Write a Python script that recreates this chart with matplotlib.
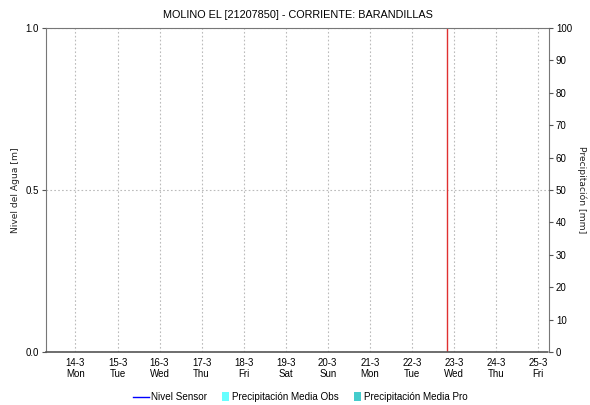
import matplotlib
matplotlib.use('Agg')
import matplotlib.pyplot as plt
from matplotlib.lines import Line2D
from matplotlib.patches import Patch, Rectangle
from matplotlib.legend_handler import HandlerPatch
import datetime as dt

# data
title = 'MOLINO EL [21207850] - CORRIENTE: BARANDILLAS'
x_start = dt.datetime(2022, 3, 13, 7, 10)
x_end = dt.datetime(2022, 3, 25, 6, 20)
tick_days = [dt.datetime(2022, 3, d) for d in range(14, 26)]
now_time = dt.datetime(2022, 3, 22, 20, 0)
nivel_ticks = [0.0, 0.5, 1.0]
precip_ticks = list(range(0, 101, 10))

plt.rcParams['font.family'] = ['Liberation Sans', 'DejaVu Sans']


def narrow_patch(legend, orig_handle, xdescent, ydescent, width, height, fontsize):
    # thin, tall colour swatch like the original legend
    return Rectangle((width - 5 - xdescent, -ydescent - 1), 5, height + 2)


fig = plt.figure(figsize=(5.9, 4.05), dpi=100)
ax = fig.add_axes([46 / 590, 1 - 352 / 405, 503 / 590, 324 / 405])

ax.set_xlim(x_start, x_end)
ax.set_ylim(0, 1)
ax.set_yticks(nivel_ticks)
ax.set_yticklabels(['%.1f' % v for v in nivel_ticks])
ax.set_xticks(tick_days)
ax.set_xticklabels([d.strftime('%-d-%-m') + '\n' + d.strftime('%a') for d in tick_days])
ax.tick_params(axis='both', labelsize=7, length=3, width=0.8, color='#555555', pad=2)
ax.tick_params(axis='x', length=0, pad=4)
ax.set_title(title, fontsize=7.8, pad=7)

ax.grid(True, linestyle=(0, (1.5, 2)), color='#bbbbbb', linewidth=0.8)
for s in ['left', 'top', 'right']:
    ax.spines[s].set_color('#777777')
    ax.spines[s].set_linewidth(0.8)
ax.spines['bottom'].set_color('#555555')
ax.spines['bottom'].set_linestyle((0, (1, 1)))
ax.spines['bottom'].set_linewidth(1.2)

ax.axvline(now_time, color='#e03030', linewidth=1.0)

ax2 = ax.twinx()
ax2.set_ylim(0, 100)
ax2.set_yticks(precip_ticks)
ax2.tick_params(axis='y', labelsize=7, length=3, width=0.8, color='#555555', pad=2)
for s in ax2.spines.values():
    s.set_visible(False)

# axis titles placed directly so they stay inside the small figure
fig.text(16 / 590, 1 - 190 / 405, 'Nivel del Agua [m]', rotation=90,
         ha='center', va='center', fontsize=6.6, family='DejaVu Sans', color='#222222')
fig.text(582 / 590, 1 - 190 / 405, 'Precipitación [mm]', rotation=270,
         ha='center', va='center', fontsize=6.6, family='DejaVu Sans', color='#222222')

handles = [
    Line2D([0], [0], color='#0000ff', linewidth=1.0),
    Patch(facecolor='#66ffff', edgecolor='none'),
    Patch(facecolor='#44cccc', edgecolor='none'),
]
labels = ['Nivel Sensor', 'Precipitación Media Obs', 'Precipitación Media Pro']
fig.legend(handles, labels, loc='center', bbox_to_anchor=(300 / 590, 1 - 397 / 405),
           ncol=3, frameon=False, fontsize=7.1, handlelength=1.6, handletextpad=0.3,
           columnspacing=0.6,
           handler_map={Patch: HandlerPatch(patch_func=narrow_patch)})

fig.savefig('out.png', dpi=100)
